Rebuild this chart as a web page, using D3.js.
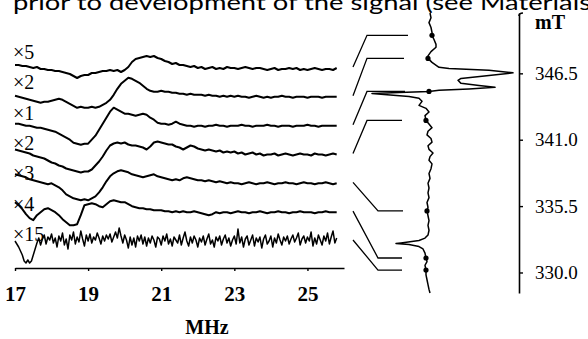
<!DOCTYPE html>
<html><head><meta charset="utf-8">
<script src="https://cdn.jsdelivr.net/npm/d3@7"></script>
<style>html,body{margin:0;padding:0;background:#fff;overflow:hidden}</style>
</head><body>
<svg id="c" width="588" height="339"></svg>
<script>
// ---------- data ----------
const caption = "prior to development of the signal (see Materials";
const gainLabels = ["×5", "×2", "×1", "×2", "×3", "×4", "×15"];
const freqTicks = [17, 19, 21, 23, 25];
const freqUnit = "MHz";
const fieldTicks = [346.5, 341.0, 335.5, 330.0];
const fieldUnit = "mT";
const freqStart = 17.0;
const freqStepSmooth = 0.1;   // sampling step of traces 1-6
const freqStepNoisy = 0.05;   // sampling step of trace 7

const trace1 = [3,3,2,2,1,0,1,-1,-1,-2, -2,-3,-3,-4,-5,-6,-8,-10,-8,-7, -7,-5,-5,-4,-3,-3,-2,-3,-2,-4,
  -2,1,6,9,10,11,12,11,12,10, 9,7,6,4,5,3,3,2,1,2, 0,1,-1,0,1,-1,0,-1,1,0, 0,-1,0,1,0,-1,0,0,-1,-2,
  -1,0,-2,-1,-1,0,-1,0,-2,-1, -2,-1,0,-1,-2,-1,-1,-2,0];
const trace2 = [1,0,-1,-2,-3,-4,-5,-6,-5,-5, -4,-3,-2,-3,-5,-7,-9,-11,-10,-11, -11,-10,-11,-10,-8,-6,-3,2,8,13,
  16,19,18,16,14,11,8,6,5,5, 6,5,5,4,4,3,3,2,3,2, 2,2,1,2,1,1,0,1,0,1, 0,1,0,0,-1,0,1,0,-1,0,
  -1,0,0,1,0,0,-1,0,0,0, -1,0,0,0,-1,0,0,0,0];
const trace3 = [2,2,1,0,0,-1,-2,-2,-3,-4, -5,-6,-8,-10,-12,-14,-17,-18,-19,-18, -18,-14,-10,-4,2,8,14,18,16,14,
  12,12,11,10,11,12,11,8,6,3, 2,2,1,2,4,2,1,0,0,-1, 0,0,-1,0,0,1,0,0,-1,0, 0,0,1,0,0,-1,0,0,0,1,
  0,0,-1,0,0,0,-1,0,0,0, 1,0,0,-1,0,0,0,0,0];
const trace4 = [5,4,3,2,1,-1,-2,-3,-4,-6, -8,-9,-11,-12,-14,-15,-16,-17,-18,-17, -17,-15,-11,-7,-2,4,9,11,12,11,
  12,10,9,9,8,7,5,8,12,13, 12,11,10,10,8,7,5,7,9,8, 6,5,4,5,4,3,4,2,3,2, 3,1,2,0,1,2,0,1,-1,0,
  0,1,-1,0,1,0,-1,0,1,0, 0,-1,1,0,0,-1,0,1,0];
const trace5 = [9,8,7,6,4,3,2,1,0,-1, 0,-2,-4,-7,-11,-13,-15,-16,-17,-16, -17,-15,-13,-9,-4,2,7,10,12,13,
  12,11,9,8,7,6,7,8,9,7, 6,5,4,3,4,3,5,6,5,4, 3,3,2,3,2,1,2,1,0,1, 0,0,-1,0,1,0,-1,0,0,1,
  0,-1,0,0,1,0,0,-1,0,1, 0,0,-1,0,0,1,0,-1,0];
const trace6 = [10,7,3,-2,-6,-8,-3,0,3,4, 2,0,-3,-7,-10,-13,-13,-12,-3,7, 8,9,8,6,5,8,11,12,11,10,
  10,8,6,5,4,4,3,3,2,2, 2,1,1,0,1,0,1,0,0,1, 0,-1,-2,-3,-2,0,-1,0,0,-1, 0,1,0,0,-1,0,0,1,0,-1,
  0,0,1,0,0,-1,0,0,1,0, 0,0,-1,0,0,1,0,0,0];
const trace7 = [0,-3,-6,-10,-14,-20,-22,-19,-22,-20,-14,-8,-2,3,-4,2,6,-3,4,1,
  7,-2,3,-6,5,0,8,-4,2,-8,6,1,9,-3,4,-1,10,2,-5,6,
  0,7,-2,4,1,8,3,-3,5,0,6,2,7,-1,4,9,3,13,5,-2,
  6,1,-7,4,-4,3,-6,5,0,6,-3,4,-5,3,-2,5,1,-6,4,2,
  -4,5,0,7,-3,2,-5,4,1,-2,6,-4,3,9,0,-5,4,-2,5,1,
  -6,3,-1,5,-4,2,7,-3,1,-6,4,0,5,-4,2,6,-2,3,-5,1,
  5,-3,12,-2,4,-6,2,5,-4,1,6,-5,3,-1,4,-7,2,6,-3,0,
  5,-6,3,-2,7,1,-4,4,0,5,-3,2,6,-1,3,8,-4,2,5,-2,
  4,0,9,-5,3,-3,6,1,-4,5,0,8,-3,4,10,-2,3];
const traces = [trace1, trace2, trace3, trace4, trace5, trace6, trace7];
const traceSteps = [freqStepSmooth, freqStepSmooth, freqStepSmooth, freqStepSmooth, freqStepSmooth, freqStepSmooth, freqStepNoisy];

// EPR (field-swept) spectrum: field in mT and signal
const esrField = [351.5,351.1,350.7,350.3,349.9,349.65,349.3,348.9,348.66,348.3,347.95,347.74,347.41,347.0,346.9,346.75,
  346.54,346.33,346.08,345.92,345.67,345.5,345.34,345.21,345.09,345.0,344.92,344.84,344.75,344.59,344.43,344.18,
  343.85,343.6,343.3,343.0,342.6,342.3,342.0,341.7,341.4,341.1,340.8,340.5,340.2,339.9,339.6,339.3,339.0,338.6,
  338.2,337.8,337.4,337.0,336.6,336.2,335.8,335.4,335.1,334.7,334.3,333.9,333.5,333.1,332.85,332.65,332.45,332.4,
  332.32,332.15,331.95,331.6,331.2,330.9,330.6,330.2,329.8,329.4,329.0,328.6,328.3];
const esrSignal = [-1,0,-2,0,1,1,3,5,5,0,-3,-3,1,8,18,58,
  82,58,30,27,30,48,64,38,8,-2,-32,-59,-47,-22,-12,-9,
  -12,-5,-2,-6,-5,-2,1,-3,-4,0,1,-3,-2,2,-1,-2,1,0,
  -2,-1,-3,-2,-3,-2,-4,-3,-4,-3,-2,-3,-2,-3,-6,-12,-30,-35,
  -22,-12,-8,-6,-5,-4,-6,-5,-5,-4,-3,-2,-1];
// fields at which the ENDOR traces were recorded (marked by dots), top trace first
const dotFields = [349.65, 347.74, 345.0, 342.6, 335.1, 331.2, 330.2];

// ---------- drawing ----------
const svg = d3.select("#c");
const ink = "#000";
const serif = "'Liberation Serif', 'Times New Roman', serif";

// caption (cut at the top of the picture, as in the source scan)
svg.append("text").attr("x", 13).attr("y", 10)
  .attr("font-family", "Lato, 'Open Sans', sans-serif").attr("font-size", 22)
  .attr("textLength", 578).attr("lengthAdjust", "spacingAndGlyphs")
  .attr("fill", ink).text(caption);

const x = d3.scaleLinear().domain([17, 26]).range([15, 344]);
const rowY = d3.scalePoint().domain(d3.range(traces.length)).range([68, 241]);
const amp = d3.scaleLinear().domain([-30, 30]).range([30, -30]);

traces.forEach((vals, k) => {
  const line = d3.line()
    .x((d, i) => x(freqStart + i * traceSteps[k]))
    .y(d => rowY(k) + amp(d));
  svg.append("path").attr("d", line(vals))
    .attr("fill", "none").attr("stroke", ink)
    .attr("stroke-width", k === 6 ? 1.5 : 2).attr("stroke-linejoin", "round");
});

svg.selectAll("text.gain").data(gainLabels).join("text")
  .attr("class", "gain")
  .attr("x", 13).attr("y", (d, i) => rowY(i) - 9 + 1.5 * i)
  .attr("font-family", serif).attr("font-size", 20)
  .attr("fill", ink).text(d => d);

// frequency axis
const xAxis = svg.append("g").attr("transform", "translate(0,268)")
  .call(d3.axisBottom(x).tickValues(freqTicks).tickSize(3).tickSizeOuter(0).tickPadding(15)
    .tickFormat(d3.format("d")));
xAxis.select(".domain").attr("stroke", ink).attr("stroke-width", 1.6);
xAxis.selectAll(".tick line").attr("stroke", ink).attr("stroke-width", 1.4);
xAxis.selectAll(".tick text").attr("font-family", serif)
  .attr("font-size", 21).attr("font-weight", "bold").attr("fill", ink);

svg.append("text").attr("x", x(22.25)).attr("y", 334).attr("text-anchor", "middle")
  .attr("font-family", serif).attr("font-size", 20)
  .attr("font-weight", "bold").attr("fill", ink).text(freqUnit);

// field axis
const fy = d3.scaleLinear().domain([328.3, 351.5]).range([293, 13]);
const fAxis = svg.append("g").attr("transform", "translate(519,0)")
  .call(d3.axisRight(fy).tickValues(fieldTicks).tickSize(4).tickSizeOuter(0).tickPadding(12)
    .tickFormat(d3.format(".1f")));
fAxis.select(".domain").attr("stroke", ink).attr("stroke-width", 1.6);
fAxis.selectAll(".tick line").attr("stroke", ink).attr("stroke-width", 1.4);
fAxis.selectAll(".tick text").attr("font-family", serif)
  .attr("font-size", 19).attr("fill", ink);
const axisTop = fy.range()[1];
svg.append("path").attr("d", `M519,${axisTop + 3}Q519,${axisTop} 523,${axisTop}`)
  .attr("fill", "none").attr("stroke", ink).attr("stroke-width", 1.6);
svg.append("text").attr("x", 535).attr("y", 29)
  .attr("font-family", serif).attr("font-size", 20)
  .attr("font-weight", "bold").attr("fill", ink).text(fieldUnit);

// EPR spectrum drawn vertically
const ampX = d3.scaleLinear().domain([0, 80]).range([431, 511]);
const esrPts = esrField.map((f, i) => [f, esrSignal[i]]);
svg.append("path")
  .attr("d", d3.line().x(d => ampX(d[1])).y(d => fy(d[0]))(esrPts))
  .attr("fill", "none").attr("stroke", ink).attr("stroke-width", 1.5)
  .attr("stroke-linejoin", "round");

function signalAt(f) {
  for (let i = 0; i < esrField.length - 1; i++) {
    const a = esrField[i], b = esrField[i + 1];
    if (f <= a && f >= b) {
      const t = (a - f) / (a - b);
      return esrSignal[i] + t * (esrSignal[i + 1] - esrSignal[i]);
    }
  }
  return 0;
}
const dots = dotFields.map(f => ({ x: ampX(signalAt(f)), y: fy(f) }));
svg.selectAll("circle.dot").data(dots).join("circle")
  .attr("class", "dot").attr("cx", d => d.x).attr("cy", d => d.y).attr("r", 2.6).attr("fill", ink);

// connectors from each ENDOR trace to its field position
const startX = x(26) + 9;
svg.selectAll("path.conn").data(dots).join("path")
  .attr("class", "conn")
  .attr("d", (d, i) => {
    const sy = rowY(i) - 1;
    const cx = startX + (d.y < sy ? 14 : 25);
    return `M${startX},${sy}L${cx},${d.y}L${d.x - 24},${d.y}`;
  })
  .attr("fill", "none").attr("stroke", ink).attr("stroke-width", 1.3);
</script>
</body></html>
